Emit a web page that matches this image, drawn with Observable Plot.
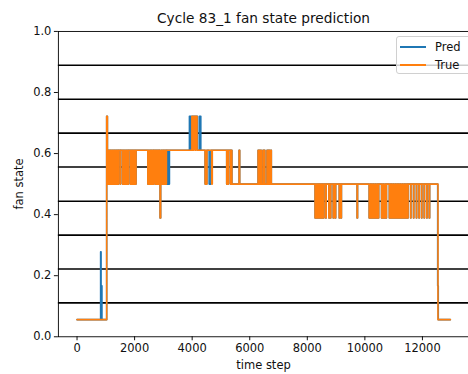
<!DOCTYPE html>
<html><head><meta charset="utf-8">
<script src="https://cdn.jsdelivr.net/npm/d3@7"></script>
<script src="https://cdn.jsdelivr.net/npm/@observablehq/plot@0.6"></script>
<style>
body{margin:0;width:468px;height:374px;overflow:hidden;position:relative;background:#fff;font-family:"DejaVu Sans",sans-serif;color:#111}
#chart{position:absolute;left:0;top:0}
.txt{position:absolute;white-space:nowrap;line-height:1}
#legend{position:absolute;left:396px;top:36px;width:80px;height:38px;border:1px solid #d0d0d0;border-radius:3px;background:rgba(255,255,255,0.8);box-sizing:border-box}
.li{position:absolute;left:3px;height:14px;font-size:11.5px}
.li span.sw{position:absolute;left:0;top:6px;width:26px;height:2px}
.li span.lb{position:absolute;left:35px;top:0}
</style>
</head><body>
<div id="chart"></div>
<script>
// ---- data ----
const title = "Cycle 83_1 fan state prediction";
const xLabel = "time step";
const yLabel = "fan state";
const xTicks = [0, 2000, 4000, 6000, 8000, 10000, 12000];
const yTicks = [0.0, 0.2, 0.4, 0.6, 0.8, 1.0];
const levelLines = [0.111, 0.222, 0.333, 0.444, 0.556, 0.667, 0.778, 0.889];
const seriesNames = ["Pred", "True"];

// step series as [time step, fan state] change points
const startTrue = [[0,0.056],[1030,0.722],[1055,0.5]];
const startPred = [[0,0.056],[820,0.278],[835,0.056],[850,0.167],[865,0.056],[1030,0.722],[1055,0.5]];
const segA = [[1080,0.611],[1100,0.5],[1125,0.611],[1150,0.5],[1170,0.611],[1195,0.5],[1220,0.611],[1240,0.5],[1265,0.611],[1290,0.5],[1310,0.611],[1335,0.5],[1360,0.611],[1380,0.5],[1400,0.611],[1425,0.5],[1440,0.611],[1500,0.5],[1510,0.611]];
const segB = [[1580,0.5],[1605,0.611],[1625,0.5],[1650,0.611],[1675,0.5],[1700,0.611],[1720,0.5],[1745,0.611],[1770,0.5],[1785,0.611],[1850,0.5],[1870,0.611],[1895,0.5],[1915,0.611],[1940,0.5],[1960,0.611],[1985,0.5],[2005,0.611],[2030,0.5],[2050,0.611]];
const segC = [[2460,0.5],[2485,0.611],[2510,0.5],[2535,0.611],[2560,0.5],[2580,0.611],[2605,0.5],[2630,0.611],[2655,0.5],[2670,0.611],[2720,0.5],[2740,0.611],[2765,0.5],[2785,0.611],[2810,0.5],[2830,0.611],[2855,0.5],[2870,0.611],[2885,0.389],[2905,0.5],[2925,0.611],[2950,0.5],[2975,0.611],[3000,0.5],[3020,0.611],[3045,0.5],[3070,0.611],[3090,0.5],[3105,0.611]];
const midTrue = [[3990,0.722],[4020,0.611],[4050,0.722],[4100,0.611],[4120,0.722],[4170,0.611],[4450,0.5],[4475,0.611],[4490,0.5],[4515,0.611],[4680,0.5],[4700,0.611]];
const midPred = [[3120,0.5],[3140,0.611],[3180,0.5],[3210,0.611],[3905,0.722],[3960,0.611],[3990,0.722],[4180,0.611],[4250,0.722],[4300,0.611],[4450,0.5],[4510,0.611],[4590,0.5],[4650,0.611]];
const segE = [[5200,0.5],[5220,0.611],[5240,0.5],[5260,0.611],[5330,0.5],[5345,0.611],[5380,0.5],[5630,0.611],[5650,0.5]];
const segF = [[6290,0.611],[6310,0.5],[6335,0.611],[6360,0.5],[6385,0.611],[6400,0.5],[6460,0.611],[6480,0.5],[6505,0.611],[6525,0.5],[6600,0.611],[6615,0.5],[6640,0.611],[6660,0.5],[6685,0.611],[6700,0.5],[6735,0.611],[6750,0.5]];
const segG = [[8270,0.389],[8295,0.5],[8315,0.389],[8340,0.5],[8360,0.389],[8385,0.5],[8410,0.389],[8430,0.5],[8455,0.389],[8480,0.5],[8500,0.389],[8525,0.5],[8550,0.389],[8575,0.5],[8640,0.389],[8655,0.5],[8750,0.389],[8765,0.5],[8800,0.389],[8815,0.5],[8900,0.389],[8915,0.5],[8970,0.389],[8985,0.5],[9110,0.389],[9125,0.5],[9170,0.389],[9185,0.5],[9730,0.389],[9745,0.5]];
const segH = [[10150,0.389],[10190,0.5],[10230,0.389],[10270,0.5],[10310,0.389],[10350,0.5],[10390,0.389],[10430,0.5],[10460,0.389],[10480,0.5],[10580,0.389],[10620,0.5],[10660,0.389],[10700,0.5],[10730,0.389],[10750,0.5],[10850,0.389],[10890,0.5],[10930,0.389],[10970,0.5],[11010,0.389],[11050,0.5],[11090,0.389],[11130,0.5],[11170,0.389],[11210,0.5],[11250,0.389],[11290,0.5],[11330,0.389],[11370,0.5],[11410,0.389],[11450,0.5],[11480,0.389],[11500,0.5],[11590,0.389],[11600,0.5],[11690,0.389],[11700,0.5],[11790,0.389],[11800,0.5],[11880,0.389],[11890,0.5],[11970,0.389],[11980,0.5],[12060,0.389],[12070,0.5],[12150,0.389],[12160,0.5],[12235,0.389],[12250,0.5]];
const endTrue = [[12540,0.056],[12970,0.056]];
const endPred = [[12530,0.167],[12550,0.056],[12970,0.056]];

// ---- build ----
const toRows = arr => arr.map(([t, v]) => ({t, v}));
const byT = (a, b) => a.t - b.t;
const truth = toRows([...startTrue, ...segA, ...segB, ...segC, ...midTrue, ...segE, ...segF, ...segG, ...segH, ...endTrue]).sort(byT);
const pred = toRows([...startPred, ...segA, ...segB, ...segC, ...midPred, ...segE, ...segF, ...segG, ...segH, ...endPred]).sort(byT);

const chart = Plot.plot({
  width: 469, height: 374,
  marginLeft: 58, marginRight: 0, marginTop: 31, marginBottom: 37,
  style: {fontFamily: "DejaVu Sans", fontSize: "11.5px", color: "#111", background: "transparent", overflow: "visible"},
  x: {domain: [-648, 13600], ticks: xTicks, tickFormat: d => String(d), tickSize: 4, tickPadding: 3, label: null},
  y: {domain: [0, 1], ticks: yTicks, tickFormat: d => d.toFixed(1), tickSize: 4, tickPadding: 3, label: null},
  marks: [
    Plot.ruleY(levelLines, {stroke: "#000", strokeWidth: 1.6}),
    Plot.line(pred, {x: "t", y: "v", curve: "step-after", stroke: "#1f77b4", strokeWidth: 1.6}),
    Plot.line(truth, {x: "t", y: "v", curve: "step-after", stroke: "#ff7f0e", strokeWidth: 1.6}),
    Plot.frame({stroke: "#000", strokeWidth: 0.9})
  ]
});
document.getElementById("chart").appendChild(chart);

function addText(txt, css) {
  const d = document.createElement("div");
  d.className = "txt"; d.textContent = txt;
  Object.assign(d.style, css);
  document.body.appendChild(d);
  return d;
}
addText(title, {left: "263.5px", top: "12px", fontSize: "13.7px", transform: "translateX(-50%)"});
addText(xLabel, {left: "263.5px", top: "360px", fontSize: "11.5px", transform: "translateX(-50%)"});
addText(yLabel, {left: "20px", top: "184px", fontSize: "11.5px", transform: "translate(-50%,-50%) rotate(-90deg)"});

const lg = document.createElement("div"); lg.id = "legend";
const colors = ["#1f77b4", "#ff7f0e"];
seriesNames.forEach((n, i) => {
  const it = document.createElement("div"); it.className = "li";
  it.style.top = (3 + i * 18) + "px";
  it.innerHTML = `<span class="sw" style="background:${colors[i]}"></span><span class="lb">${n}</span>`;
  lg.appendChild(it);
});
document.body.appendChild(lg);
</script>
</body></html>
